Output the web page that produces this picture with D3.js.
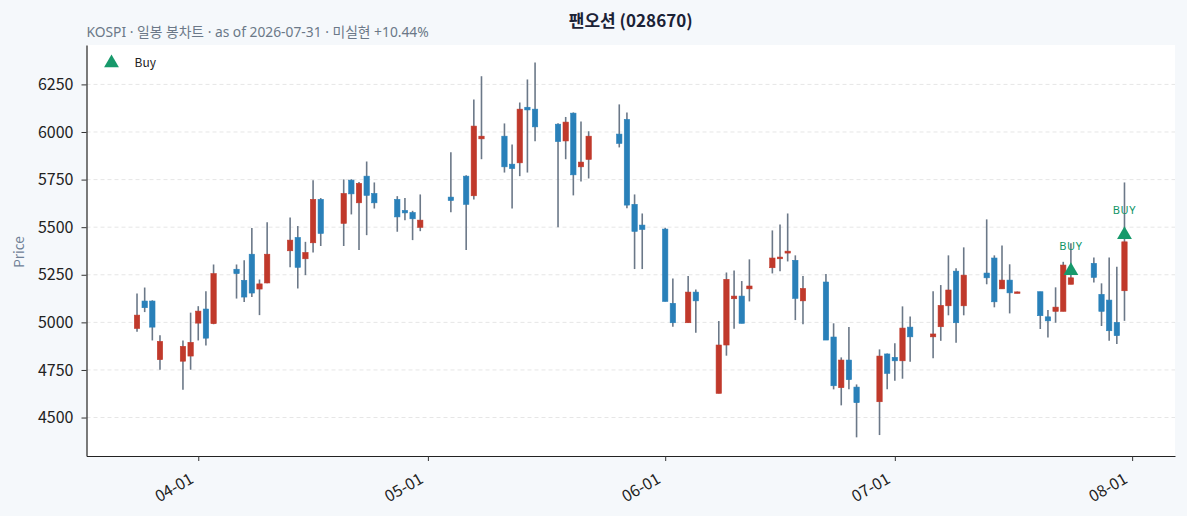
<!DOCTYPE html>
<html>
<head>
<meta charset="utf-8">
<script src="https://cdn.jsdelivr.net/npm/d3@7"></script>
<style>
  body { margin: 0; background: #f5f8fb; }
  svg { display: block; font-family: "Noto Sans CJK KR", "Noto Sans", sans-serif; }
</style>
</head>
<body>
<div id="chart"></div>
<script>
// daily candles (trading days only)
var dates = ["2026-03-24","2026-03-25","2026-03-26","2026-03-27","2026-03-30","2026-03-31","2026-04-01","2026-04-02","2026-04-03",
  "2026-04-06","2026-04-07","2026-04-08","2026-04-09","2026-04-10","2026-04-13","2026-04-14","2026-04-15","2026-04-16","2026-04-17",
  "2026-04-20","2026-04-21","2026-04-22","2026-04-23","2026-04-24","2026-04-27","2026-04-28","2026-04-29","2026-04-30",
  "2026-05-04","2026-05-06","2026-05-07","2026-05-08","2026-05-11","2026-05-12","2026-05-13","2026-05-14","2026-05-15",
  "2026-05-18","2026-05-19","2026-05-20","2026-05-21","2026-05-22","2026-05-26","2026-05-27","2026-05-28","2026-05-29",
  "2026-06-01","2026-06-02","2026-06-04","2026-06-05","2026-06-08","2026-06-09","2026-06-10","2026-06-11","2026-06-12",
  "2026-06-15","2026-06-16","2026-06-17","2026-06-18","2026-06-19","2026-06-22","2026-06-23","2026-06-24","2026-06-25","2026-06-26",
  "2026-06-29","2026-06-30","2026-07-01","2026-07-02","2026-07-03","2026-07-06","2026-07-07","2026-07-08","2026-07-09","2026-07-10",
  "2026-07-13","2026-07-14","2026-07-15","2026-07-16","2026-07-17","2026-07-20","2026-07-21","2026-07-22","2026-07-23","2026-07-24",
  "2026-07-27","2026-07-28","2026-07-29","2026-07-30","2026-07-31"];

var opens = [4968,5112,5112,4804,4796,4823,4996,5070,4993,
  5279,5221,5358,5175,5207,5376,5446,5334,5418,5646,
  5520,5747,5628,5768,5677,5646,5588,5577,5499,
  5658,5768,5665,5964,5978,5831,5838,6130,6120,
  6041,5953,6099,5817,5856,5989,6066,5620,5511,
  5490,5100,4998,5159,4627,4881,5124,5138,5176,
  5287,5334,5364,5326,5113,5212,4923,4657,4802,4660,
  4583,4834,4816,4798,4975,4924,4977,5087,5269,5087,
  5259,5338,5176,5222,5155,5161,5029,5058,5058,5200,
  5310,5147,5117,5000,5166];

var highs = [5151,5183,5116,4932,4905,5051,5085,5163,5304,
  5304,5326,5496,5225,5526,5551,5506,5423,5747,5653,
  5751,5752,5737,5845,5735,5663,5653,5586,5672,
  5893,5773,6171,6293,6045,5934,6155,6276,6365,
  6046,6079,6103,6055,6004,6145,6103,5672,5572,
  5497,5231,5243,5173,5007,5262,5273,5217,5331,
  5483,5514,5572,5352,5243,5254,4995,4816,4975,4674,
  4858,4837,4890,5084,5031,5163,5196,5352,5284,5394,
  5541,5352,5404,5305,5162,5161,5065,5184,5318,5415,
  5341,5205,5341,5292,5735];

var lows = [4951,5054,4905,4751,4646,4751,4905,4879,4990,
  5125,5107,5133,5038,5205,5289,5178,5248,5367,5401,
  5401,5567,5380,5458,5598,5476,5537,5432,5479,
  5578,5380,5646,5857,5787,5598,5768,5787,5952,
  5499,5857,5667,5740,5756,5919,5599,5280,5280,
  5110,4977,4998,4945,4627,4825,4966,4995,5110,
  5257,5268,5320,5012,4990,4907,4648,4564,4648,4396,
  4408,4648,4693,4704,4793,4811,4903,5037,4893,5037,
  5200,5079,5176,5047,5153,4965,4921,4998,5058,5200,
  5210,4981,4903,4886,5008];

var closes = [5038,5077,4975,4900,4874,4895,5059,4917,5256,
  5256,5133,5154,5202,5358,5432,5289,5367,5646,5467,
  5677,5675,5730,5667,5628,5554,5575,5544,5537,
  5640,5620,6031,5978,5817,5808,6120,6116,6027,
  5950,6052,5775,5842,5978,5940,5616,5478,5488,
  5110,4998,5159,5113,4881,5226,5138,4995,5191,
  5338,5343,5374,5126,5178,4907,4667,4802,4699,4578,
  4823,4732,4798,4970,4924,4939,5089,5170,4998,5248,
  5234,5108,5222,5155,5160,5035,5008,5080,5301,5234,
  5236,5058,4956,4930,5423];

var buyDates = ["2026-07-24", "2026-07-31"];
var yTicks = [4500, 4750, 5000, 5250, 5500, 5750, 6000, 6250];
var monthTicks = ["2026-04-01", "2026-05-01", "2026-06-01", "2026-07-01", "2026-08-01"];

var svgWidth = 1187;
var svgHeight = 516;
var margin = {top: 45, right: 12, bottom: 60, left: 86.5};
var width = svgWidth - margin.left - margin.right;
var height = svgHeight - margin.top - margin.bottom;

var parseDate = d3.timeParse("%Y-%m-%d");
var DAY = 864e5;
var fontLatin = "'Noto Sans', 'Noto Sans CJK KR', sans-serif";

var candles = dates.map(function(d, i) {
  return {date: parseDate(d), open: opens[i], high: highs[i], low: lows[i], close: closes[i]};
});

var svg = d3.select("#chart").append("svg")
  .attr("width", svgWidth)
  .attr("height", svgHeight);

svg.append("rect")
  .attr("width", svgWidth).attr("height", svgHeight)
  .attr("fill", "#f5f8fb");

var chartGroup = svg.append("g")
  .attr("transform", `translate(${margin.left}, ${margin.top})`);

chartGroup.append("rect")
  .attr("width", width).attr("height", height)
  .attr("fill", "#ffffff");

// scales
var first = candles[0].date, last = candles[candles.length - 1].date;
var pad = 6.6 * DAY;
var xScale = d3.scaleTime()
  .domain([new Date(+first - pad), new Date(+last + pad)])
  .range([0, width]);

var yScale = d3.scaleLinear()
  .domain([4298, 6457])
  .range([height, 0]);

var dayPx = xScale(new Date(+first + DAY)) - xScale(first);
var bodyW = dayPx * 0.7;

// grid
chartGroup.append("g")
  .selectAll("line")
  .data(yTicks)
  .enter()
  .append("line")
  .attr("x1", 0).attr("x2", width)
  .attr("y1", d => yScale(d)).attr("y2", d => yScale(d))
  .attr("stroke", "#e6e6e6")
  .attr("stroke-width", 1)
  .attr("stroke-dasharray", "4,3");

// axes
var leftAxis = d3.axisLeft(yScale)
  .tickValues(yTicks)
  .tickFormat(d3.format("d"))
  .tickSizeInner(5).tickSizeOuter(0)
  .tickPadding(8);
var bottomAxis = d3.axisBottom(xScale)
  .tickValues(monthTicks.map(parseDate))
  .tickFormat(d3.timeFormat("%m-%d"))
  .tickSizeInner(5).tickSizeOuter(0);

var yAxisG = chartGroup.append("g").call(leftAxis);
yAxisG.select(".domain").attr("stroke", "#222").attr("stroke-width", 1.2);
yAxisG.selectAll(".tick line").attr("stroke", "#333");
yAxisG.selectAll("text")
  .attr("font-size", "16px")
  .attr("fill", "#222")
  .attr("font-family", "'Noto Sans CJK KR', sans-serif");

var xAxisG = chartGroup.append("g")
  .attr("transform", `translate(0, ${height})`)
  .call(bottomAxis);
xAxisG.select(".domain").attr("stroke", "#222").attr("stroke-width", 1.2);
xAxisG.selectAll(".tick line").attr("stroke", "#333");
xAxisG.selectAll("text")
  .attr("font-size", "16px")
  .attr("fill", "#222")
  .attr("font-family", "'Noto Sans CJK KR', sans-serif")
  .attr("text-anchor", "end")
  .attr("x", 0).attr("y", 0).attr("dy", 0)
  .attr("transform", "translate(-4,26) rotate(-30)");

// axis label
svg.append("text")
  .attr("transform", "rotate(-90)")
  .attr("x", -252)
  .attr("y", 24)
  .attr("text-anchor", "middle")
  .attr("font-size", "13.5px")
  .attr("fill", "#6f8096")
  .text("Price");

// candles
var candleG = chartGroup.append("g");

candleG.selectAll("line.wick")
  .data(candles)
  .enter()
  .append("line")
  .attr("class", "wick")
  .attr("x1", d => xScale(d.date)).attr("x2", d => xScale(d.date))
  .attr("y1", d => yScale(d.high)).attr("y2", d => yScale(d.low))
  .attr("stroke", "#6b7888")
  .attr("stroke-width", 1.6);

candleG.selectAll("rect.body")
  .data(candles)
  .enter()
  .append("rect")
  .attr("class", "body")
  .attr("x", d => xScale(d.date) - bodyW / 2)
  .attr("width", bodyW)
  .attr("y", d => yScale(Math.max(d.open, d.close)))
  .attr("height", d => Math.max(1.5, Math.abs(yScale(d.open) - yScale(d.close))))
  .attr("fill", d => d.close >= d.open ? "#c0392b" : "#2980b9")
  .attr("stroke", d => d.close >= d.open ? "#c0392b" : "#2980b9")
  .attr("stroke-width", 0.6);

// buy markers
var buys = candles.filter(d => buyDates.indexOf(d3.timeFormat("%Y-%m-%d")(d.date)) >= 0);
var tri = d3.symbol().type(d3.symbolTriangle).size(95);

chartGroup.selectAll("path.buy")
  .data(buys)
  .enter()
  .append("path")
  .attr("class", "buy")
  .attr("d", tri)
  .attr("transform", d => `translate(${xScale(d.date)}, ${yScale(d.close) - 7})`)
  .attr("fill", "#17996b");

chartGroup.selectAll("text.buy")
  .data(buys)
  .enter()
  .append("text")
  .attr("class", "buy")
  .attr("x", d => xScale(d.date))
  .attr("y", d => yScale(d.close) - 28)
  .attr("text-anchor", "middle")
  .attr("font-size", "11px")
  .attr("font-family", fontLatin)
  .attr("letter-spacing", "0.6px")
  .attr("fill", "#0f9466")
  .text("BUY");

// legend
var legend = chartGroup.append("g").attr("transform", "translate(25, 18)");
legend.append("path")
  .attr("d", tri)
  .attr("fill", "#17996b");
legend.append("text")
  .attr("x", 23)
  .attr("y", 4)
  .attr("font-size", "12px")
  .attr("fill", "#222")
  .text("Buy");

// titles
svg.append("text")
  .attr("x", margin.left + width / 2)
  .attr("y", 27)
  .attr("text-anchor", "middle")
  .attr("font-size", "17px")
  .attr("font-weight", "bold")
  .attr("fill", "#1b2236")
  .text("팬오션 (028670)");

svg.append("text")
  .attr("x", margin.left)
  .attr("y", 37)
  .attr("font-size", "13.8px")
  .attr("font-family", fontLatin)
  .attr("fill", "#6b7888")
  .text("KOSPI · 일봉 봉차트 · as of 2026-07-31 · 미실현 +10.44%");
</script>
</body>
</html>
